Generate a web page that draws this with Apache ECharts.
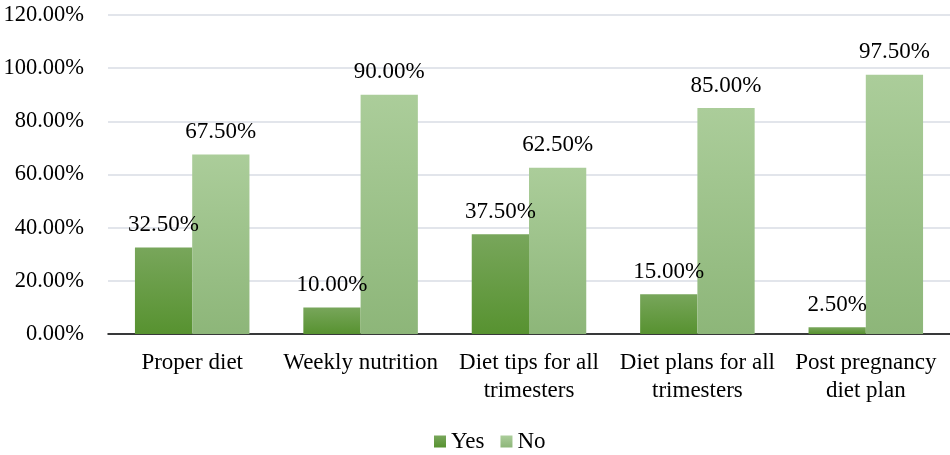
<!DOCTYPE html>
<html><head><meta charset="utf-8">
<script src="https://cdn.jsdelivr.net/npm/echarts@6/dist/echarts.min.js"></script>
<style>html,body{margin:0;padding:0;background:#fff}#c{width:950px;height:455px}</style>
</head><body><div id="c"></div>
<script>
const categories = ["Proper diet", "Weekly nutrition", "Diet tips for all\ntrimesters", "Diet plans for all\ntrimesters", "Post pregnancy\ndiet plan"];
const yesValues = [32.5, 10.0, 37.5, 15.0, 2.5];
const noValues = [67.5, 90.0, 62.5, 85.0, 97.5];
const seriesNames = ["Yes", "No"];

const font = "'Liberation Serif', 'Times New Roman', serif";
const grad = (a, b) => new echarts.graphic.LinearGradient(0, 0, 0, 1, [{offset: 0, color: a}, {offset: 1, color: b}]);
const chart = echarts.init(document.getElementById('c'));
const lbl = {show: true, position: 'top', distance: 11, color: '#000', fontFamily: font, fontSize: 23,
  formatter: p => p.value.toFixed(2) + '%'};
chart.setOption({
  animation: false,
  grid: {left: 108, right: 0, top: 15, bottom: 121},
  legend: {bottom: -3, left: 429, itemWidth: 12, itemHeight: 12, itemGap: 16,
    icon: 'rect', textStyle: {fontFamily: font, fontSize: 23, color: '#000'}, data: seriesNames},
  xAxis: {type: 'category', data: categories,
    axisLine: {lineStyle: {color: '#000', width: 1.5}}, axisTick: {show: false},
    axisLabel: {fontFamily: font, fontSize: 23, color: '#000', margin: 15, lineHeight: 28, interval: 0}},
  yAxis: {type: 'value', min: 0, max: 120, interval: 20,
    axisLine: {show: false}, axisTick: {show: false},
    splitLine: {lineStyle: {color: '#d9dce4', width: 1.5}},
    axisLabel: {fontFamily: font, fontSize: 22.5, color: '#000', margin: 24, formatter: v => v.toFixed(2) + '%'}},
  series: [
    {name: seriesNames[0], type: 'bar', data: yesValues, barGap: '0%', barCategoryGap: '32%',
      itemStyle: {color: grad('#78a65b', '#579230')}, label: lbl},
    {name: seriesNames[1], type: 'bar', data: noValues,
      itemStyle: {color: grad('#abcd9a', '#8db679')}, label: lbl}
  ]
});
</script></body></html>
